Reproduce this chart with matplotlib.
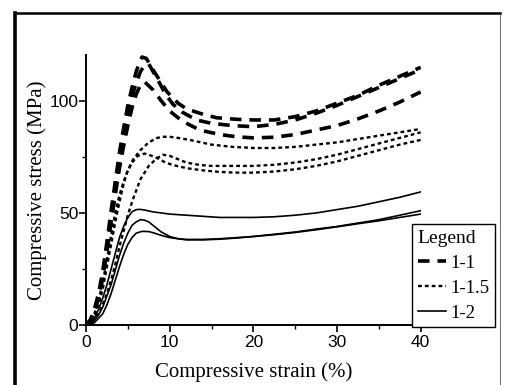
import matplotlib
matplotlib.use("Agg")
import matplotlib.pyplot as plt
from matplotlib.lines import Line2D
from matplotlib.ticker import MultipleLocator

# ---- data ----
strain_A = [0, 0.5, 1, 1.5, 2, 2.5, 3, 3.5, 4, 4.5, 5, 5.5, 6, 6.4, 6.7, 7.2, 8, 9, 9.7, 11, 12, 14, 15.6, 18, 20, 22.5, 25, 27.5, 30, 32.5, 35, 37.5, 40]
stress_A = [0, 2, 7, 14, 24, 37, 51, 64, 77, 88, 98, 106, 113, 117.5, 119.6, 119, 114, 108, 104, 99, 96.5, 94, 92.5, 91.8, 91.5, 91.5, 93, 95.5, 99, 102.5, 107, 111, 115]

strain_B = [0, 0.5, 1, 1.5, 2, 2.5, 3, 3.5, 4, 4.5, 5, 5.5, 6, 6.5, 7, 7.5, 8.5, 9.5, 10.4, 11.5, 13.2, 15, 17.5, 20, 22.5, 25, 27.5, 30, 32.5, 35, 37.5, 40]
stress_B = [0, 2, 6, 13, 22, 35, 48, 61, 73, 84, 94, 102, 108, 113, 116, 116.5, 110, 103, 98.5, 95, 91.5, 90, 89, 88.5, 89.5, 91.5, 94.5, 98, 102, 106, 110, 114]

strain_C = [0, 0.5, 1, 1.5, 2, 2.5, 3, 3.5, 4, 4.5, 5, 5.5, 6, 6.5, 7, 8, 9, 10, 11.5, 13.6, 16, 18, 20, 22.5, 25, 27.5, 30, 32.5, 35, 37.5, 40]
stress_C = [0, 2, 6, 12, 21, 33, 46, 58, 70, 80, 89, 97, 103, 107, 108.5, 105, 100, 95.5, 91, 87, 85, 84, 83.5, 83.8, 85, 87, 89, 92, 95.5, 99.5, 104]

strain_D1 = [0, 0.5, 1, 1.5, 2, 2.5, 3, 3.5, 4, 4.5, 5, 5.6, 6.5, 7.5, 8.5, 9.2, 10, 11, 12.5, 15, 17.5, 20, 22.5, 25, 27.5, 30, 32.5, 35, 37.5, 40]
stress_D1 = [0, 2, 5, 11, 19, 29, 40, 50, 58, 64, 69, 73.7, 78, 81.5, 83.5, 84, 84, 83.5, 82.5, 80.5, 79.5, 79, 79, 79.5, 80.5, 81.5, 83, 84.5, 86, 87.5]

strain_D2 = [0, 0.5, 1, 1.5, 2, 2.5, 3, 3.5, 4, 4.5, 4.9, 5.5, 6.2, 7, 7.5, 8.5, 9.5, 10.4, 12, 14, 16, 18, 20, 22.5, 25, 27.5, 30, 32.5, 35, 37.5, 40]
stress_D2 = [0, 1.5, 4, 9, 16, 26, 36, 46, 55, 63, 68, 72.5, 75.5, 76.5, 76, 74.5, 72.5, 71.4, 70, 69, 68.3, 68, 68, 68.5, 69.5, 71, 73, 75.5, 78, 80.5, 82.6]

strain_D3 = [0, 0.5, 1, 1.5, 2, 2.5, 3, 3.5, 4, 4.5, 5, 5.6, 6.5, 7.5, 8.5, 9.2, 10, 11, 12, 13.6, 15, 17.5, 20, 22.5, 25, 27.5, 30, 32.5, 35, 37.5, 40]
stress_D3 = [0, 1, 2.5, 5, 9, 14, 20, 27, 35, 42, 49, 56, 65, 71, 74.5, 76, 75.5, 74, 72.5, 71.4, 71, 71, 71, 71.5, 72.5, 74, 76, 78.5, 81, 83.5, 86]

strain_S1 = [0, 0.5, 1, 1.5, 2, 2.5, 3, 3.5, 4, 4.5, 5, 5.5, 6, 6.5, 7, 8, 9, 10, 12, 14, 16, 18, 20, 22.5, 25, 27.5, 30, 32.5, 35, 37.5, 40]
stress_S1 = [0, 1, 3, 7, 12, 18, 25, 32, 39, 44, 48, 50.5, 51.5, 51.6, 51.3, 50.5, 50, 49.5, 49, 48.5, 48, 48, 48, 48.3, 49, 50, 51.5, 53, 55, 57, 59.4]

strain_S2 = [0, 0.5, 1, 1.5, 2, 2.5, 3, 3.5, 4, 4.5, 5, 5.5, 6, 6.5, 7, 7.5, 8, 9, 10, 11, 12, 14, 16, 18, 20, 22.5, 25, 27.5, 30, 32.5, 35, 37.5, 40]
stress_S2 = [0, 0.5, 2, 4.5, 8, 13, 18, 24.5, 31, 36.5, 41, 44.5, 46, 47, 46.8, 46, 44.5, 41.5, 39.5, 38.5, 38, 38, 38.3, 38.8, 39.5, 40.5, 41.5, 42.8, 44, 45.5, 47, 49, 51]

strain_S3 = [0, 0.5, 1, 1.5, 2, 2.5, 3, 3.5, 4, 4.5, 5, 5.5, 6, 6.7, 7.5, 8, 9, 10, 11, 12, 14, 16, 18, 20, 22.5, 25, 27.5, 30, 32.5, 35, 37.5, 40]
stress_S3 = [0, 0.3, 1, 3, 5, 9, 14, 20, 26, 31.5, 36, 39, 41, 41.8, 41.7, 41.2, 40, 39, 38.5, 38.2, 38.2, 38.5, 39, 39.5, 40.3, 41.3, 42.5, 43.8, 45.2, 46.5, 48, 49.5]

legend_title = "Legend"
group_labels = ["1-1", "1-1.5", "1-2"]
x_ticks = [0, 10, 20, 30, 40]
y_ticks = [0, 50, 100]

# ---- figure ----
W, H = 508, 385
fig = plt.figure(figsize=(W / 100, H / 100), dpi=100)
fig.patch.set_facecolor("white")

# outer frame (scanned panel border)
fig.add_artist(Line2D([15 / W, 15 / W], [0, 1 - 13 / H], color="black", lw=2.6, transform=fig.transFigure))
fig.add_artist(Line2D([15 / W, 500 / W], [1 - 13 / H, 1 - 13 / H], color="black", lw=1.8, transform=fig.transFigure))
fig.add_artist(Line2D([500 / W, 500 / W], [0, 1 - 13 / H], color="#333333", lw=0.5, transform=fig.transFigure))

ax_l, ax_r = 86 / W, 420.7 / W
ax_b, ax_t = 1 - 325 / H, 1 - 55 / H
ax = fig.add_axes([ax_l, ax_b, ax_r - ax_l, ax_t - ax_b])
ax.set_xlim(0, 40)
ax.set_ylim(0, 120.5)

dash_kw = dict(color="black", lw=2.6, dashes=(3.2, 2.2))
dot_kw = dict(color="black", lw=1.7, dashes=(1.6, 1.3))
solid_kw = dict(color="black", lw=1.2)

ax.plot(strain_A, stress_A, **dash_kw)
ax.plot(strain_B, stress_B, **dash_kw)
ax.plot(strain_C, stress_C, **dash_kw)
ax.plot(strain_D1, stress_D1, **dot_kw)
ax.plot(strain_D2, stress_D2, **dot_kw)
ax.plot(strain_D3, stress_D3, **dot_kw)
ax.plot(strain_S1, stress_S1, **solid_kw)
ax.plot(strain_S2, stress_S2, **solid_kw)
ax.plot(strain_S3, stress_S3, **solid_kw)

for s in ["top", "right"]:
    ax.spines[s].set_visible(False)
for s in ["left", "bottom"]:
    ax.spines[s].set_linewidth(1.4)

ax.set_xticks(x_ticks)
ax.set_yticks(y_ticks)
ax.xaxis.set_minor_locator(MultipleLocator(5))
ax.yaxis.set_minor_locator(MultipleLocator(25))
ax.tick_params(which="major", direction="out", length=5, width=1.2, labelsize=12.5, pad=2)
ax.tick_params(axis="y", which="major", pad=0.5)
ax.tick_params(which="minor", direction="out", length=3, width=1.0)
for lab in ax.get_xticklabels() + ax.get_yticklabels():
    lab.set_fontfamily("Liberation Sans")

serif = "Liberation Serif"
ax.set_xlabel("Compressive strain (%)", fontsize=15, family=serif, labelpad=9)
ax.set_ylabel("Compressive stress (MPa)", fontsize=15, family=serif)
ax.yaxis.set_label_coords(-0.118, 0.5)

handles = [
    Line2D([], [], **dash_kw),
    Line2D([], [], **dot_kw),
    Line2D([], [], **solid_kw),
]
leg = ax.legend(handles, group_labels, title=legend_title,
                loc="upper left", bbox_to_anchor=(412 / W, 1 - 224 / H),
                bbox_transform=fig.transFigure,
                prop={"family": serif, "size": 13.5}, title_fontproperties={"family": serif, "size": 14},
                handlelength=1.5, handletextpad=0.25, borderpad=0.3, labelspacing=0.42,
                borderaxespad=0, fancybox=False, framealpha=1, edgecolor="black")
leg._legend_box.align = "left"
leg.get_frame().set_linewidth(1.0)

fig.savefig("out.png", dpi=100)
